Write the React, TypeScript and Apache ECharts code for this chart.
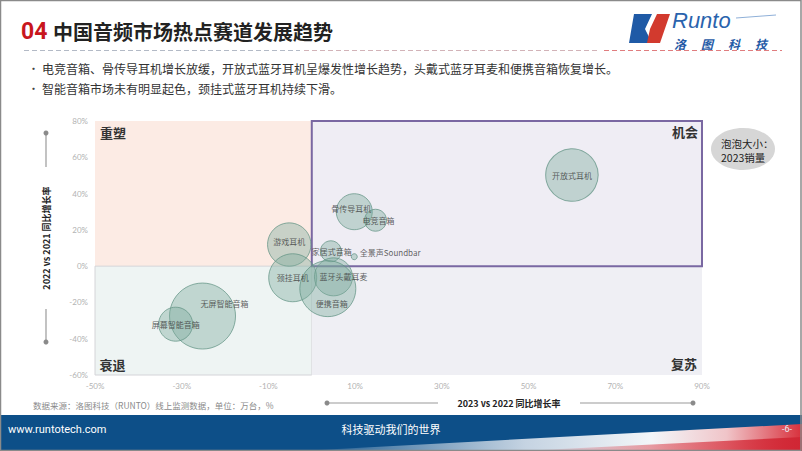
import React, { useEffect, useRef } from "react";
import * as echarts from "echarts";

// ---- data ----
const bubbleNames = [
  "开放式耳机",
  "骨传导耳机",
  "电竞音箱",
  "游戏耳机",
  "家居式音箱",
  "全景声Soundbar",
  "颈挂耳机",
  "蓝牙头戴耳麦",
  "便携音箱",
  "无屏智能音箱",
  "屏幕智能音箱",
];
// 2023 vs 2022 同比增长率 (%)
const growth2023 = [60.0, 9.8, 14.7, -5.2, 4.4, 9.8, -4.4, 5.0, 3.7, -25.2, -31.4];
// 2022 vs 2021 同比增长率 (%)
const growth2022 = [50.2, 30.0, 25.3, 11.9, 8.2, 5.2, -6.4, -5.9, -12.4, -27.5, -32.0];
// 2023 销量 (万台) – bubble size
const sales2023 = [690, 324, 121, 470, 110, 9, 576, 361, 784, 1089, 289];

const xTickMin = -50;
const xTickMax = 90;
const yTickMin = -60;
const yTickMax = 80;
const tickStep = 20;

const quadrantNames = ["重塑", "机会", "衰退", "复苏"];

const bullets = [
  "电竞音箱、骨传导耳机增长放缓，开放式蓝牙耳机呈爆发性增长趋势，头戴式蓝牙耳麦和便携音箱恢复增长。",
  "智能音箱市场未有明显起色，颈挂式蓝牙耳机持续下滑。",
];

// label style tweaks (presentation only)
const labelTweaks: Record<string, any> = {
  骨传导耳机: { offset: [-3, -3] },
  电竞音箱: { offset: [3, 0] },
  游戏耳机: { offset: [0, -3] },
  家居式音箱: { offset: [1, 0] },
  蓝牙头戴耳麦: { offset: [10, 0] },
  便携音箱: { offset: [4, 15] },
  无屏智能音箱: { offset: [22, -13] },
  全景声Soundbar: { position: "right", distance: 2, offset: [0, -4] },
};

const CJK = '"Noto Sans CJK SC", "Noto Sans", sans-serif';

export default function App() {
  const ref = useRef<HTMLDivElement>(null);

  useEffect(() => {
    document.body.style.margin = "0";
    const chart = echarts.init(ref.current!, undefined, { renderer: "svg" });

    const bubbleData = bubbleNames.map((n, i) => ({
      name: n,
      value: [growth2023[i], growth2022[i], sales2023[i]],
      label: labelTweaks[n] || {},
    }));

    const qLabel = (pos: string) => ({
      show: true,
      position: pos,
      distance: 5,
      fontSize: 13,
      fontWeight: "bold",
      color: "#333",
      fontFamily: CJK,
    });

    const option: any = {
      animation: false,
      backgroundColor: "#ffffff",
      grid: { left: 95, right: 100, top: 121, bottom: 76 },
      xAxis: {
        type: "value",
        min: xTickMin,
        max: xTickMax,
        interval: tickStep,
        axisLine: { show: false },
        axisTick: { show: false },
        splitLine: { show: false },
        axisLabel: {
          formatter: "{value}%",
          color: "#b2b2b2",
          fontSize: 8,
          margin: 7,
          fontFamily: "Lato, sans-serif",
        },
      },
      yAxis: {
        type: "value",
        min: yTickMin,
        max: yTickMax,
        interval: tickStep,
        axisLine: { show: false },
        axisTick: { show: false },
        splitLine: { show: false },
        axisLabel: {
          formatter: "{value}%",
          color: "#b2b2b2",
          fontSize: 8,
          margin: 7,
          fontFamily: "Lato, sans-serif",
        },
      },
      series: [
        {
          type: "scatter",
          data: [],
          z: 1,
          silent: true,
          markArea: {
            silent: true,
            data: [
              [
                {
                  name: quadrantNames[0],
                  xAxis: xTickMin,
                  yAxis: yTickMax,
                  itemStyle: { color: "#fcebe4", borderWidth: 0 },
                  label: qLabel("insideTopLeft"),
                },
                { xAxis: 0, yAxis: 0 },
              ],
              [
                {
                  name: quadrantNames[2],
                  xAxis: xTickMin,
                  yAxis: 0,
                  itemStyle: { color: "#eef4f3", borderColor: "#d4d4d8", borderWidth: 1 },
                  label: qLabel("insideBottomLeft"),
                },
                { xAxis: 0, yAxis: yTickMin },
              ],
              [
                {
                  name: quadrantNames[3],
                  xAxis: 0,
                  yAxis: 0,
                  itemStyle: { color: "#efeff4", borderWidth: 0 },
                  label: qLabel("insideBottomRight"),
                },
                { xAxis: xTickMax, yAxis: yTickMin },
              ],
              [
                {
                  name: quadrantNames[1],
                  xAxis: 0,
                  yAxis: yTickMax,
                  itemStyle: { color: "#efedf4", borderColor: "#7a68a2", borderWidth: 2 },
                  label: qLabel("insideTopRight"),
                },
                { xAxis: xTickMax, yAxis: 0 },
              ],
            ],
          },
        },
        {
          type: "scatter",
          z: 3,
          data: bubbleData,
          symbolSize: (v: number[]) => Math.sqrt(v[2]) * 2,
          itemStyle: {
            color: "rgba(122,170,156,0.5)",
            borderColor: "rgba(95,145,130,0.9)",
            borderWidth: 1,
          },
          label: {
            show: true,
            position: "inside",
            formatter: (p: any) => p.name,
            color: "#3a3a3a",
            fontSize: 8,
            fontFamily: CJK,
          },
          emphasis: { disabled: true },
        },
      ],
      graphic: [
        // page border
        {
          type: "rect",
          shape: { x: 0.5, y: 0.5, width: 800.5, height: 450 },
          style: { fill: "none", stroke: "#8a8a8a", lineWidth: 1.5 },
          z: 100,
        },
        // header
        {
          type: "text",
          x: 21,
          y: 31,
          style: {
            text: "04",
            fill: "#c8161d",
            fontSize: 23,
            fontWeight: "bold",
            fontFamily: "Roboto, sans-serif",
            verticalAlign: "middle",
          },
        },
        {
          type: "text",
          x: 53,
          y: 31,
          style: {
            text: "中国音频市场热点赛道发展趋势",
            fill: "#222",
            fontSize: 20,
            fontWeight: "bold",
            fontFamily: CJK,
            verticalAlign: "middle",
          },
        },
        {
          type: "line",
          shape: { x1: 24, y1: 50.5, x2: 300, y2: 50.5 },
          style: { stroke: "#b3bac6", lineWidth: 1, lineDash: [5, 3] },
        },
        {
          type: "line",
          shape: { x1: 304, y1: 50.5, x2: 600, y2: 50.5 },
          style: { stroke: "#d2b3b8", lineWidth: 1, lineDash: [5, 3] },
        },
        {
          type: "line",
          shape: { x1: 604, y1: 50.5, x2: 782, y2: 50.5 },
          style: { stroke: "#e07d7f", lineWidth: 1, lineDash: [5, 3] },
        },
        // logo
        {
          type: "polygon",
          shape: { points: [[634, 14], [652, 14], [645, 29], [652, 43], [629, 43]] },
          style: { fill: "#1f5aa6" },
        },
        {
          type: "polygon",
          shape: { points: [[657, 14], [670, 14], [660, 43], [647, 43], [650, 29]] },
          style: { fill: "#d23a2e" },
        },
        {
          type: "text",
          x: 672,
          y: 20,
          style: {
            text: "Runto",
            fill: "#2a63ad",
            fontSize: 22,
            fontStyle: "italic",
            fontFamily: '"Liberation Sans", sans-serif',
            verticalAlign: "middle",
          },
        },
        {
          type: "line",
          shape: { x1: 736, y1: 18, x2: 776, y2: 15 },
          style: { stroke: "#8fb0d8", lineWidth: 1 },
        },
        ...["洛", "图", "科", "技"].map((c, i) => ({
          type: "text",
          x: 674 + i * 27,
          y: 43,
          style: {
            text: c,
            fill: "#1f5aa6",
            fontSize: 12,
            fontWeight: "bold",
            fontStyle: "italic",
            fontFamily: CJK,
            verticalAlign: "middle",
          },
        })),
        // bullets
        ...bullets.flatMap((b, i) => [
          {
            type: "text",
            x: 28,
            y: 68 + i * 20,
            style: { text: "•", fill: "#444", fontSize: 11, verticalAlign: "middle", fontFamily: CJK },
          },
          {
            type: "text",
            x: 42,
            y: 68 + i * 20,
            style: { text: b, fill: "#333", fontSize: 12, verticalAlign: "middle", fontFamily: CJK },
          },
        ]),
        // y axis name
        {
          type: "line",
          shape: { x1: 46, y1: 133, x2: 46, y2: 167 },
          style: { stroke: "#9a9a9a", lineWidth: 1.2 },
        },
        { type: "circle", shape: { cx: 46, cy: 133, r: 2.5 }, style: { fill: "#8a8a8a" } },
        {
          type: "line",
          shape: { x1: 46, y1: 309, x2: 46, y2: 342 },
          style: { stroke: "#9a9a9a", lineWidth: 1.2 },
        },
        { type: "circle", shape: { cx: 46, cy: 342, r: 2.5 }, style: { fill: "#8a8a8a" } },
        {
          type: "text",
          x: 46,
          y: 238,
          rotation: Math.PI / 2,
          style: {
            text: "2022 vs 2021 同比增长率",
            fill: "#222",
            fontSize: 9,
            fontWeight: "bold",
            align: "center",
            verticalAlign: "middle",
            fontFamily: CJK,
          },
        },
        // x axis name
        {
          type: "line",
          shape: { x1: 327, y1: 403, x2: 438, y2: 403 },
          style: { stroke: "#9a9a9a", lineWidth: 1.2 },
        },
        { type: "circle", shape: { cx: 327, cy: 403, r: 2.5 }, style: { fill: "#8a8a8a" } },
        {
          type: "line",
          shape: { x1: 580, y1: 403, x2: 693, y2: 403 },
          style: { stroke: "#9a9a9a", lineWidth: 1.2 },
        },
        { type: "circle", shape: { cx: 693, cy: 403, r: 2.5 }, style: { fill: "#8a8a8a" } },
        {
          type: "text",
          x: 509,
          y: 403,
          style: {
            text: "2023 vs 2022 同比增长率",
            fill: "#222",
            fontSize: 9,
            fontWeight: "bold",
            align: "center",
            verticalAlign: "middle",
            fontFamily: CJK,
          },
        },
        // bubble legend
        {
          type: "ellipse",
          shape: { cx: 743, cy: 149, rx: 32, ry: 21 },
          style: { fill: "#d6d6d6" },
        },
        {
          type: "text",
          x: 721,
          y: 143,
          style: { text: "泡泡大小：", fill: "#222", fontSize: 10.5, verticalAlign: "middle", fontFamily: CJK },
        },
        {
          type: "text",
          x: 721,
          y: 157,
          style: { text: "2023销量", fill: "#222", fontSize: 10.5, verticalAlign: "middle", fontFamily: CJK },
        },
        // source
        {
          type: "text",
          x: 33,
          y: 405,
          style: {
            text: "数据来源：洛图科技（RUNTO）线上监测数据，单位：万台，%",
            fill: "#8a8a8a",
            fontSize: 8.5,
            verticalAlign: "middle",
            fontFamily: CJK,
          },
        },
        // footer
        {
          type: "rect",
          shape: { x: 0, y: 415, width: 802, height: 36 },
          style: { fill: "#0d4f88" },
        },
        {
          type: "polygon",
          shape: { points: [[300, 451], [802, 424], [802, 451]] },
          style: {
            fill: new echarts.graphic.LinearGradient(0, 0, 1, 0, [
              { offset: 0, color: "rgba(255,255,255,0)" },
              { offset: 0.45, color: "rgba(230,235,242,0.85)" },
              { offset: 0.7, color: "rgba(255,255,255,0.95)" },
              { offset: 0.85, color: "#f0c4c8" },
              { offset: 1, color: "#d8303c" },
            ]),
          },
        },
        {
          type: "polygon",
          shape: { points: [[520, 451], [802, 437], [802, 451]] },
          style: {
            fill: new echarts.graphic.LinearGradient(0, 0, 1, 0, [
              { offset: 0, color: "rgba(216,48,60,0)" },
              { offset: 0.6, color: "rgba(216,48,60,0.6)" },
              { offset: 1, color: "#d02634" },
            ]),
          },
        },
        {
          type: "text",
          x: 8,
          y: 429,
          style: {
            text: "www.runtotech.com",
            fill: "#ffffff",
            fontSize: 11,
            verticalAlign: "middle",
            fontFamily: "Roboto, sans-serif",
          },
        },
        {
          type: "text",
          x: 391,
          y: 429,
          style: {
            text: "科技驱动我们的世界",
            fill: "#ffffff",
            fontSize: 11,
            align: "center",
            verticalAlign: "middle",
            fontFamily: CJK,
          },
        },
        {
          type: "text",
          x: 787,
          y: 429,
          style: {
            text: "-6-",
            fill: "#e8eef5",
            fontSize: 9,
            align: "center",
            verticalAlign: "middle",
            fontFamily: "Roboto, sans-serif",
          },
        },
      ],
    };

    chart.setOption(option);
    return () => chart.dispose();
  }, []);

  return (
    <div
      ref={ref}
      style={{ position: "absolute", left: 0, top: 0, width: 802, height: 451 }}
    />
  );
}
